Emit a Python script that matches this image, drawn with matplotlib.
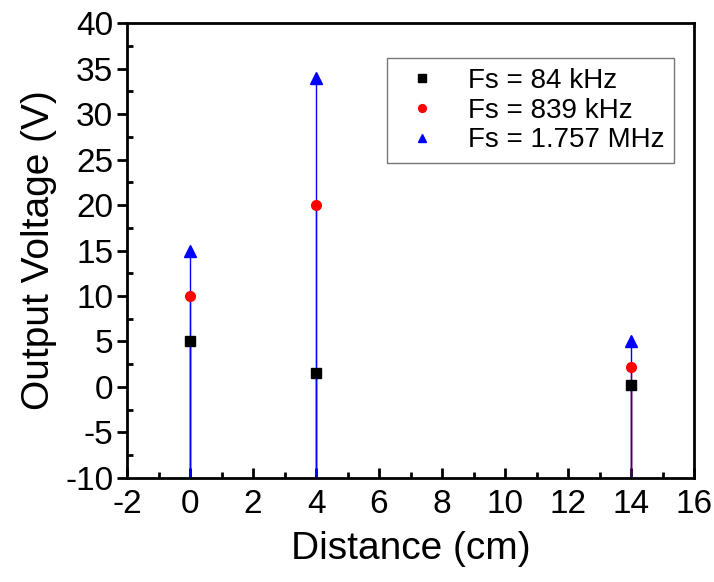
import matplotlib
matplotlib.use("Agg")
import matplotlib.pyplot as plt
from matplotlib.ticker import MultipleLocator

plt.rcParams['font.family'] = ['Liberation Sans', 'DejaVu Sans']
plt.rcParams['axes.unicode_minus'] = False

distance = [0, 4, 14]
v_84k = [5, 1.5, 0.2]
v_839k = [10, 20, 2.2]
v_1757M = [15, 34, 5]
labels = ["Fs = 84 kHz", "Fs = 839 kHz", "Fs = 1.757 MHz"]
baseline = -10

fig = plt.figure(figsize=(7.14, 5.82), dpi=100)
ax = fig.add_axes([0.178, 0.179, 0.794, 0.781])

series = [(v_84k, 'black', 's', 6.5), (v_839k, 'red', 'o', 7), (v_1757M, 'blue', '^', 8)]
for (vals, col, mk, ms), lab in zip(series, labels):
    ax.vlines(distance, baseline, vals, colors=col, lw=1, zorder=2)
for (vals, col, mk, ms), lab in zip(series, labels):
    ax.plot(distance, vals, ls='none', marker=mk, color=col, ms=ms, label=lab, zorder=3)

ax.set_xlim(-2, 16)
ax.set_ylim(-10, 40)
ax.xaxis.set_major_locator(MultipleLocator(2))
ax.xaxis.set_minor_locator(MultipleLocator(1))
ax.yaxis.set_major_locator(MultipleLocator(5))
ax.yaxis.set_minor_locator(MultipleLocator(2.5))

for s in ax.spines.values():
    s.set_linewidth(2)
ax.tick_params(axis='y', which='major', direction='out', length=7, width=2, labelsize=24, pad=3)
ax.tick_params(axis='y', which='minor', direction='in', length=4, width=2)
ax.tick_params(axis='x', which='major', direction='in', length=7, width=2, labelsize=24, pad=8)
ax.tick_params(axis='x', which='minor', direction='in', length=4, width=2)

ax.set_xlabel("Distance (cm)", fontsize=28, labelpad=8)
ax.set_ylabel("Output Voltage (V)", fontsize=28, labelpad=6)

leg = ax.legend(loc='upper right', bbox_to_anchor=(0.965, 0.923), fontsize=20,
                frameon=True, fancybox=False, handlelength=1.8, handletextpad=0.75,
                borderpad=0.35, labelspacing=0.13, markerscale=0.8, borderaxespad=0)
leg.get_frame().set_edgecolor('#555555')
leg.get_frame().set_linewidth(1)

fig.savefig("out.png", dpi=100)
